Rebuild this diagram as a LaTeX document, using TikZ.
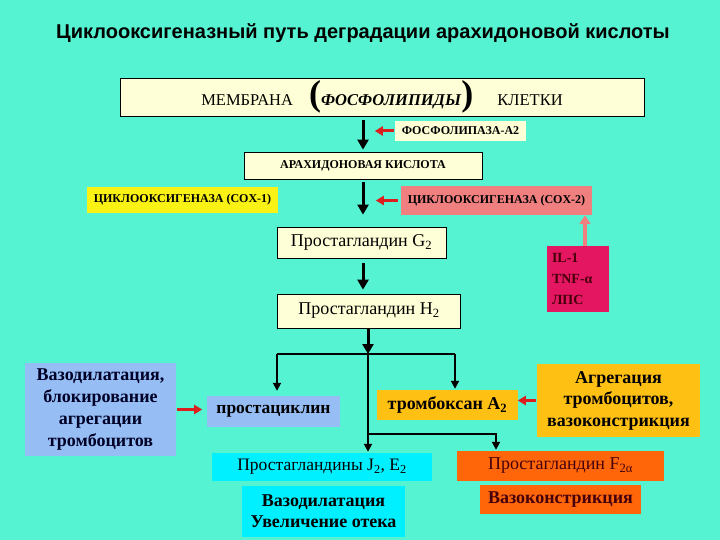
\documentclass[tikz,border=0pt]{standalone}
\usepackage{fontspec}
\setmainfont{Liberation Serif}[BoldFont={Liberation Serif Bold},ItalicFont={Liberation Serif Italic},BoldItalicFont={Liberation Serif Bold Italic}]
\newfontfamily\tnr{Liberation Serif}[BoldFont={Liberation Serif Bold},ItalicFont={Liberation Serif Italic},BoldItalicFont={Liberation Serif Bold Italic}]
\newfontfamily\arialf{Liberation Sans}
\usetikzlibrary{arrows.meta}
\definecolor{bgc}{RGB}{85,243,210}
\definecolor{cream}{RGB}{255,255,215}
\definecolor{yel}{RGB}{250,242,20}
\definecolor{salmon}{RGB}{240,128,128}
\definecolor{crim}{RGB}{228,22,98}
\definecolor{lblue}{RGB}{150,190,245}
\definecolor{gold}{RGB}{255,192,20}
\definecolor{ored}{RGB}{255,102,10}
\definecolor{cyanb}{RGB}{0,240,255}
\definecolor{redar}{RGB}{220,30,30}
\definecolor{maroon}{RGB}{70,0,10}
\tikzset{
  x=1pt,y=-1pt,
  box/.style={inner sep=0pt,font=\tnr\fontsize{18}{20}\selectfont},
  multi/.style={align=center,font=\tnr\bfseries\fontsize{18}{22}\selectfont},
  bigarrow/.style={line width=3pt,-{Triangle[length=10pt,width=11pt]}},
  thinarrow/.style={line width=1.8pt,-{Triangle[length=8pt,width=8pt]}},
  thinline/.style={line width=1.8pt},
  redarrow/.style={line width=3pt,redar,-{Triangle[length=8pt,width=9pt]}},
}
\begin{document}
\begin{tikzpicture}
\fill[bgc] (0,0) rectangle (720,540);
\useasboundingbox (0,0) rectangle (720,540);
% title
\node[inner sep=0pt,font=\arialf\bfseries\fontsize{20}{22}\selectfont] (title) at (363,33) {Циклооксигеназный путь деградации арахидоновой кислоты};
% membrane
\node[box,fill=cream,draw=black,line width=0.8pt,minimum width=524,minimum height=38,font=\tnr\fontsize{16.5}{18}\selectfont] (mem) at (382,97)
 {МЕМБРАНА\hspace{16pt}{\fontsize{36}{36}\selectfont\bfseries(}\textbf{\textit{ФОСФОЛИПИДЫ}}{\fontsize{36}{36}\selectfont\bfseries)}\hspace{24pt}КЛЕТКИ};
\node[box,fill=cream,minimum width=131,minimum height=20,font=\tnr\bfseries\fontsize{12}{14}\selectfont] (phl) at (460.5,131) {ФОСФОЛИПАЗА-А2};
\node[box,fill=cream,draw=black,line width=0.8pt,minimum width=238,minimum height=27,font=\tnr\bfseries\fontsize{12}{14}\selectfont] (ara) at (363,165.5) {АРАХИДОНОВАЯ КИСЛОТА};
\node[box,fill=yel,minimum width=191,minimum height=26,font=\tnr\bfseries\fontsize{12}{14}\selectfont] (cox1) at (182.5,200) {ЦИКЛООКСИГЕНАЗА (COX-1)};
\node[box,fill=salmon,minimum width=191,minimum height=29,font=\tnr\bfseries\fontsize{12}{14}\selectfont] (cox2) at (496.5,200.5) {ЦИКЛООКСИГЕНАЗА (COX-2)};
\node[box,fill=cream,draw=black,line width=0.8pt,minimum width=169,minimum height=31] (g2) at (361.5,242.5) {Простагландин G\textsubscript{2}};
\node[box,fill=cream,draw=black,line width=0.8pt,minimum width=183,minimum height=34] (h2) at (369,311) {Простагландин H\textsubscript{2}};
\node[box,fill=crim,minimum width=62,minimum height=66,text width=52,align=left,text=maroon,font=\tnr\bfseries\fontsize{14}{21}\selectfont] (il) at (578,279) {IL-1\\TNF-α\\ЛПС};
% arrows top
\draw[bigarrow,shorten <=4pt,shorten >=2pt] (ara.north |- mem.south) -- (ara.north);
\draw[redarrow,shorten <=1pt] (phl.west) -- ++(-20,0);
\draw[bigarrow,shorten <=3pt,shorten >=12pt] (ara.south) -- (ara.south |- g2.north);
\draw[redarrow,shorten <=3pt] (cox2.west) -- ++(-25,0);
\draw[bigarrow,shorten <=5pt,shorten >=4pt] (ara.south |- g2.south) -- (ara.south |- h2.north);
\draw[line width=4pt,salmon,-{Triangle[length=9pt,width=11pt]}] ([xshift=7pt]il.north) -- ([xshift=7pt]il.north |- cox2.south);
% lower boxes
\node[box,multi,fill=lblue,minimum width=151,minimum height=93,text=black!85!blue] (vaso1) at (100.5,409.5) {Вазодилатация,\\блокирование\\агрегации\\тромбоцитов};
\node[box,fill=lblue,minimum width=133,minimum height=31,font=\tnr\bfseries\fontsize{17.5}{20}\selectfont] (pgi) at (273.5,411.5) {простациклин};
\node[box,fill=gold,minimum width=141,minimum height=30,font=\tnr\bfseries\fontsize{18}{20}\selectfont] (txa) at (447.5,405) {тромбоксан A\textsubscript{2}};
\node[box,multi,fill=gold,minimum width=163,minimum height=73,font=\tnr\bfseries\fontsize{18}{21.5}\selectfont] (agg) at (618.5,400.5) {Агрегация\\тромбоцитов,\\вазоконстрикция};
\node[box,fill=cyanb,minimum width=220,minimum height=28,font=\tnr\fontsize{17.5}{20}\selectfont] (j2) at (322,467) {Простагландины J\textsubscript{2}, E\textsubscript{2}};
\node[box,multi,fill=cyanb,minimum width=163,minimum height=51,font=\tnr\bfseries\fontsize{18}{21}\selectfont] (vaso2) at (323.5,511.5) {Вазодилатация\\Увеличение отека};
\node[box,fill=ored,minimum width=207,minimum height=30,text=maroon] (f2a) at (560.5,466) {Простагландин F\textsubscript{2α}};
\node[box,fill=ored,minimum width=161,minimum height=29,text=maroon,font=\tnr\bfseries\fontsize{18}{20}\selectfont] (vc) at (560.5,499.5) {Вазоконстрикция};
% branching
\coordinate (br) at (368,354);
\coordinate (bl) at (277,354);
\coordinate (brr) at (455,354);
\coordinate (b2) at (368,434);
\coordinate (b2e) at (496,434);
\draw[bigarrow,shorten <=1pt] (br |- h2.south) -- (br);
\draw[thinline] (bl) -- (brr);
\draw[thinarrow,shorten >=5pt] (bl) -- (bl |- pgi.north);
\draw[thinarrow,shorten >=1pt] (brr) -- (brr |- txa.north);
\draw[thinarrow,shorten >=1pt] (br) -- (br |- j2.north);
\draw[thinarrow,shorten >=1pt] (b2) -- (b2e) -- (b2e |- f2a.north);
\draw[redarrow,shorten <=1pt] (agg.west) -- ++(-19,0);
\draw[redarrow,shorten <=1pt] (vaso1.east) -- ++(26,0);
\end{tikzpicture}
\end{document}
